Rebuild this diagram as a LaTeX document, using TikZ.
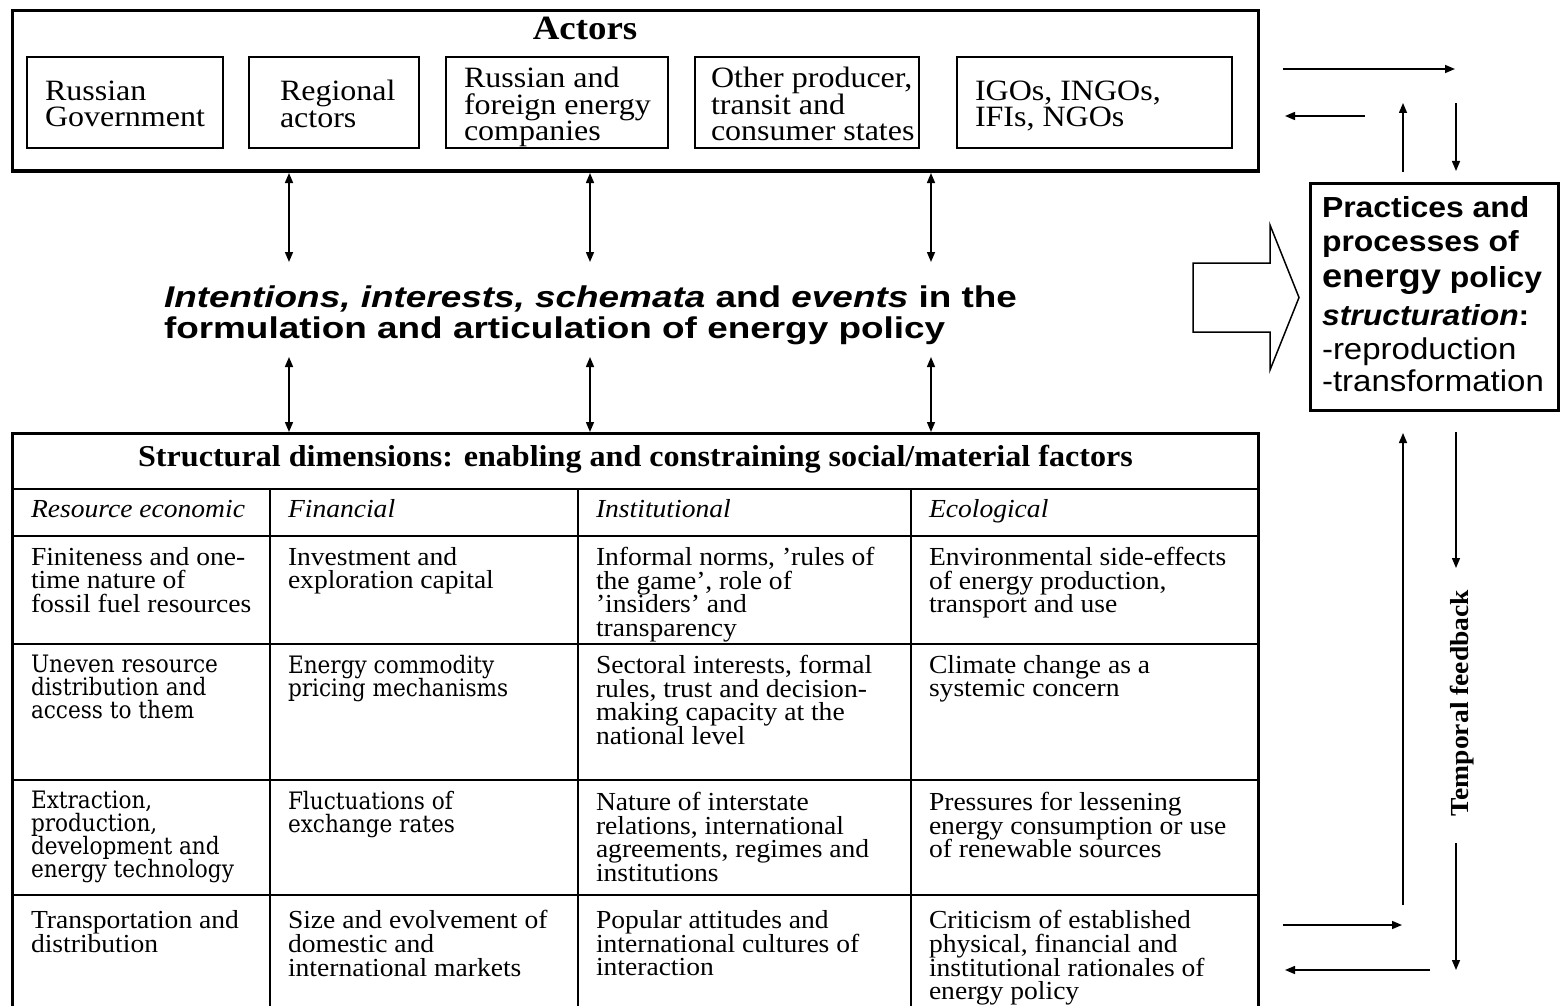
\documentclass[tikz,border=0pt]{standalone}
\usepackage{fontspec}
\setmainfont{Liberation Serif}
\newfontfamily\tnrA{Liberation Serif}[FakeStretch=1.085]
\newfontfamily\tnrB{Liberation Serif}[FakeStretch=1.06]
\newfontfamily\dvs{DejaVu Serif}[FakeStretch=0.9]
\newfontfamily\arP{Liberation Sans}[FakeStretch=1.1]
\newfontfamily\arM{Liberation Sans}[FakeStretch=1.23]
\usetikzlibrary{arrows.meta}
\lineskiplimit=-100pt
\lineskip=0pt
\tikzset{
  every node/.style={inner sep=0pt, outer sep=0pt},
  outerbox/.style={draw, line width=3pt, anchor=north west},
  innerbox/.style={draw, line width=1.4pt, anchor=north west, minimum height=91pt},
  atext/.style={anchor=north west, align=left, font=\tnrA\fontsize{29.5}{26.5}\selectfont},
  ttext/.style={anchor=north west, align=left, font=\tnrB\fontsize{26}{23.7}\selectfont},
  ltext/.style={anchor=north west, align=left, font=\dvs\fontsize{24}{23.1}\selectfont},
  htext/.style={anchor=base west, font=\tnrB\itshape\fontsize{26}{23.7}\selectfont},
  conn/.style={line width=1.5pt},
  tline/.style={line width=1.6pt},
  >={Triangle[length=10pt,width=8pt]}
}
\begin{document}
\begin{tikzpicture}[x=1pt,y=-1pt]
\lineskiplimit=-100pt
\useasboundingbox (0,0) rectangle (1561,1006);

% ---------- Actors ----------
\node[outerbox, minimum width=1246pt, minimum height=160pt] (actors) at (12,11) {};
\node[anchor=base, font=\tnrA\bfseries\fontsize{34}{34}\selectfont] (actorstitle) at (585,40) {Actors};

\node[innerbox, minimum width=196pt] (b1) at (27,57) {};
\node[innerbox, minimum width=170pt] (b2) at (249,57) {};
\node[innerbox, minimum width=222pt] (b3) at (446,57) {};
\node[innerbox, minimum width=224pt, line width=2pt] (b4) at (695,57) {};
\node[innerbox, minimum width=275pt] (b5) at (957,57) {};

\node[atext] (t1) at (45,80.5) {\strut Russian\\Government};
\node[atext] (t2) at (280,80.5) {\strut Regional\\actors};
\node[atext] (t3) at (464,67.5) {\strut Russian and\\foreign energy\\companies};
\node[atext] (t4) at (711,67.5) {\strut Other producer,\\transit and\\consumer states};
\node[atext] (t5) at (975,80.5) {\strut IGOs, INGOs,\\IFIs, NGOs};

% ---------- middle text ----------
\node[anchor=north west, align=left, font=\arM\bfseries\fontsize{30}{31}\selectfont] (mid) at (164,285.5)
  {\strut{\itshape Intentions, interests, schemata} and {\itshape events} in the\\formulation and articulation of energy policy};

% vertical double arrows
\coordinate (u1a) at (289,173); \coordinate (u1b) at (289,262);
\coordinate (u2a) at (590,173); \coordinate (u2b) at (590,262);
\coordinate (u3a) at (931,173); \coordinate (u3b) at (931,262);
\coordinate (l1a) at (289,357); \coordinate (l1b) at (289,432);
\coordinate (l2a) at (590,357); \coordinate (l2b) at (590,432);
\coordinate (l3a) at (931,357); \coordinate (l3b) at (931,432);
\draw[conn,<->] (u1a) -- (u1b);
\draw[conn,<->] (u2a) -- (u2b);
\draw[conn,<->] (u3a) -- (u3b);
\draw[conn,<->] (l1a) -- (l1b);
\draw[conn,<->] (l2a) -- (l2b);
\draw[conn,<->] (l3a) -- (l3b);

% ---------- big hollow arrow ----------
\draw[line width=1.5pt, line join=miter] (1193,263) -- (1270,263) -- (1270,225) -- (1299,297.5)
  -- (1270,370) -- (1270,332) -- (1193,332) -- cycle;

% ---------- practices box ----------
\node[outerbox, minimum width=248pt, minimum height=227pt] (prbox) at (1310,183) {};
\node[anchor=north west, align=left, font=\arP\fontsize{29}{34}\selectfont] (prtext) at (1322,193.5)
  {\strut\textbf{Practices and}\\
   \textbf{processes of}\\[2pt]
   {\fontsize{33}{34}\selectfont\bfseries energy} {\fontsize{29}{34}\selectfont\bfseries policy}\\[4pt]
   \textbf{\itshape structuration}\textbf{:}\\
   {\fontsize{30}{34}\selectfont -reproduction}\\[-2pt]
   {\fontsize{30}{34}\selectfont -transformation}};

% ---------- top right arrows ----------
\coordinate (r1a) at (1283,69);   \coordinate (r1b) at (1455,69);
\coordinate (r2a) at (1365,116);  \coordinate (r2b) at (1285,116);
\coordinate (r3a) at (1403,172);  \coordinate (r3b) at (1403,103);
\coordinate (r4a) at (1456,103);  \coordinate (r4b) at (1456,171);
\draw[conn,->] (r1a) -- (r1b);
\draw[conn,->] (r2a) -- (r2b);
\draw[conn,->] (r3a) -- (r3b);
\draw[conn,->] (r4a) -- (r4b);

% ---------- temporal feedback ----------
\coordinate (f1a) at (1403,905);  \coordinate (f1b) at (1403,433);
\coordinate (f2a) at (1456,432);  \coordinate (f2b) at (1456,568);
\coordinate (f3a) at (1456,843);  \coordinate (f3b) at (1456,970);
\coordinate (f4a) at (1283,925);  \coordinate (f4b) at (1402,925);
\coordinate (f5a) at (1430,970);  \coordinate (f5b) at (1285,970);
\draw[conn,->] (f1a) -- (f1b);
\draw[conn,->] (f2a) -- (f2b);
\draw[conn,->] (f3a) -- (f3b);
\draw[conn,->] (f4a) -- (f4b);
\draw[conn,->] (f5a) -- (f5b);
\node[rotate=90, font=\tnrB\bfseries\fontsize{26}{26}\selectfont] (tf) at (1462,703) {Temporal feedback};

% ---------- table ----------
\draw[line width=3pt] (12,1007) -- (12,433) -- (1258,433) -- (1258,1007);
\draw[line width=2.2pt] (12,489) -- (1258,489);
\foreach \yy in {536,644,780,895} \draw[tline] (12,\yy) -- (1258,\yy);
\foreach \xx in {270,578,911} \draw[tline] (\xx,489) -- (\xx,1007);

\node[anchor=base, font=\tnrB\bfseries\fontsize{30.3}{30}\selectfont] (tabtitle) at (635.5,466)
  {Structural dimensions: enabling and constraining social/material factors};

\node[htext] (h1) at (31,517) {Resource economic};
\node[htext] (h2) at (288,517) {Financial};
\node[htext] (h3) at (596,517) {Institutional};
\node[htext] (h4) at (929,517) {Ecological};

% row 1
\node[ttext] (c11) at (31,547) {\strut Finiteness and one-\\time nature of\\fossil fuel resources};
\node[ttext] (c12) at (288,547) {\strut Investment and\\exploration capital};
\node[ttext] (c13) at (596,547) {\strut Informal norms, ’rules of\\the game’, role of\\’insiders’ and\\transparency};
\node[ttext] (c14) at (929,547) {\strut Environmental side-effects\\of energy production,\\transport and use};
% row 2
\node[ltext] (c21) at (31,655) {\strut Uneven resource\\distribution and\\access to them};
\node[ltext] (c22) at (288,655) {\strut Energy commodity\\pricing mechanisms};
\node[ttext] (c23) at (596,655) {\strut Sectoral interests, formal\\rules, trust and decision-\\making capacity at the\\national level};
\node[ttext] (c24) at (929,655) {\strut Climate change as a\\systemic concern};
% row 3
\node[ltext] (c31) at (31,791) {\strut Extraction,\\production,\\development and\\energy technology};
\node[ltext] (c32) at (288,791) {\strut Fluctuations of\\exchange rates};
\node[ttext] (c33) at (596,792) {\strut Nature of interstate\\relations, international\\agreements, regimes and\\institutions};
\node[ttext] (c34) at (929,792) {\strut Pressures for lessening\\energy consumption or use\\of renewable sources};
% row 4
\node[ttext] (c41) at (31,910.5) {\strut Transportation and\\distribution};
\node[ttext] (c42) at (288,910.5) {\strut Size and evolvement of\\domestic and\\international markets};
\node[ttext] (c43) at (596,910.5) {\strut Popular attitudes and\\international cultures of\\interaction};
\node[ttext] (c44) at (929,910.5) {\strut Criticism of established\\physical, financial and\\institutional rationales of\\energy policy};
\end{tikzpicture}
\end{document}
